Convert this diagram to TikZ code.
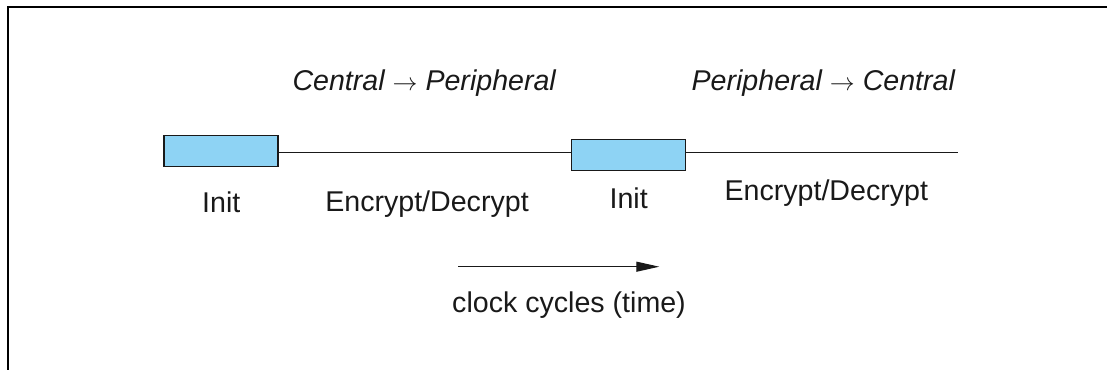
\documentclass[tikz,border=0pt]{standalone}
\usepackage{fontspec}
\setmainfont{Liberation Sans}
\usetikzlibrary{arrows.meta}
\definecolor{boxblue}{RGB}{142,211,244}
\definecolor{ink}{RGB}{25,25,25}
\tikzset{
  lbl/.style={inner sep=0pt, anchor=base, text=ink, font=\fontsize{28.6}{34}\selectfont},
  ilbl/.style={lbl, font=\fontsize{28.6}{34}\selectfont\itshape},
  phasebox/.style={draw=ink, line width=1.2pt, fill=boxblue, inner sep=0pt, minimum width=114pt, minimum height=31pt},
  tline/.style={draw=ink, line width=1.1pt},
  frame/.style={draw=black, line width=2pt}
}
\begin{document}
\begin{tikzpicture}[x=1pt,y=-1pt]
\useasboundingbox (0,0) rectangle (1107,369);
% frame
\coordinate (ftr) at (1108,7.5);
\coordinate (ftl) at (7.5,7.5);
\coordinate (fbl) at (7.5,370);
\draw[frame] (ftr) -- (ftl) -- (fbl);
% boxes
\node[phasebox] (init1) at (221,151.2) {};
\node[phasebox] (init2) at (628.7,154.7) {};
\coordinate (lineend) at (957.7,152.3);
\draw[tline] (init1.east |- lineend) -- (init2.west |- lineend);
\draw[tline] (init2.east |- lineend) -- (lineend);
% labels
\node[ilbl] (cp) at (424.2,90) {Central $\rightarrow$ Peripheral};
\node[ilbl] (pc) at (823.3,90) {Peripheral $\rightarrow$ Central};
\node[lbl] (i1) at (221.3,212) {Init};
\node[lbl] (ed1) at (427,211.5) {Encrypt/Decrypt};
\node[lbl] (i2) at (628.7,208) {Init};
\node[lbl] (ed2) at (826.3,200) {Encrypt/Decrypt};
% time arrow
\coordinate (ta) at (458.3,266.7);
\coordinate (tb) at (659.3,266.7);
\draw[tline, -{Triangle[length=23pt,width=10pt]}] (ta) -- (tb);
\node[lbl] (clk) at (569,312) {clock cycles (time)};
\end{tikzpicture}
\end{document}
